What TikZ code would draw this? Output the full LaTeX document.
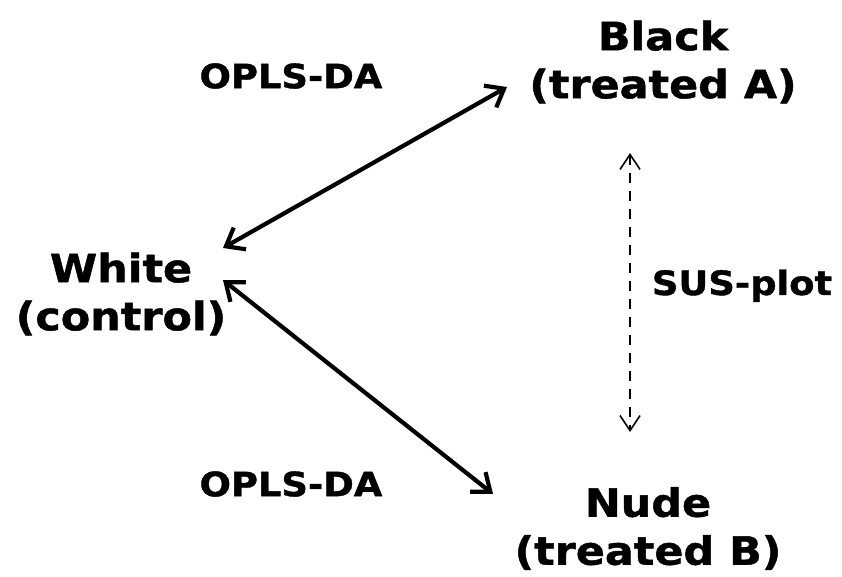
\documentclass[tikz,border=0pt]{standalone}
\usepackage{fontspec}
\setmainfont{DejaVu Sans}
\newfontfamily\vfont[FakeStretch=1.1, BoldFeatures={FakeBold=1.2}]{DejaVu Sans}
\usetikzlibrary{arrows.meta}
\begin{document}
\begin{tikzpicture}[x=1pt,y=-1pt,
  lbl/.style={font=\vfont\bfseries\fontsize{33.5}{40}\selectfont, inner sep=0pt, align=center},
  big/.style={font=\vfont\bfseries\fontsize{39}{48}\selectfont, inner sep=0pt, align=center},
  conn/.style={line width=4.2pt, {Straight Barb[length=16pt,width=25pt,line width=4.2pt]}-{Straight Barb[length=16pt,width=25pt,line width=4.2pt]}},
  dconn/.style={line width=2.6pt, dash pattern=on 10pt off 8pt, {Straight Barb[length=15pt,width=20pt,line width=1.6pt]}-{Straight Barb[length=15pt,width=20pt,line width=1.6pt]}}]
\useasboundingbox (0,0) rectangle (842,577);
\node[big] (black) at (663,62) {Black\\(treated A)};
\node[big] (white) at (121,294) {White\\(control)};
\node[big] (nude) at (648,528.5) {Nude\\(treated B)};
\node[lbl] (op1) at (291,76) {OPLS-DA};
\node[lbl] (op2) at (291,484) {OPLS-DA};
\node[lbl] (sus) at (742,285.75) {SUS-plot};
\coordinate (a1) at (223,248);
\coordinate (b1) at (507,87);
\coordinate (a2) at (223,280);
\coordinate (c2) at (493,494);
\coordinate (d1) at (630,153);
\coordinate (d2) at (630,432);
\draw[conn] (a1) -- (b1);
\draw[conn] (a2) -- (c2);
\draw[dconn] (d1) -- (d2);
\end{tikzpicture}
\end{document}
